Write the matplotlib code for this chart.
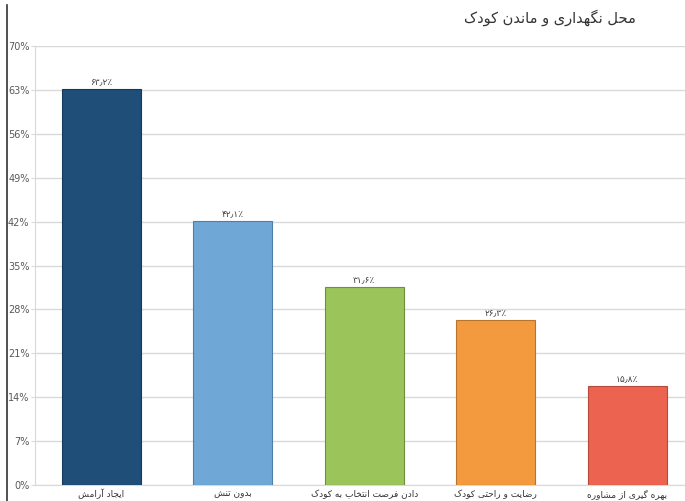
import matplotlib
matplotlib.use('Agg')
import matplotlib.pyplot as plt
from matplotlib.lines import Line2D

# 데이터
title = 'محل نگهداری و ماندن کودک'
categories = ['ایجاد آرامش', 'بدون تنش', 'دادن فرصت انتخاب به کودک',
              'رضایت و راحتی کودک', 'بهره گیری از مشاوره']
values = [63.2, 42.1, 31.6, 26.3, 15.8]
value_labels = ['۶۳٫۲٪', '۴۲٫۱٪', '۳۱٫۶٪', '۲۶٫۳٪', '۱۵٫۸٪']
y_ticks = [0, 7, 14, 21, 28, 35, 42, 49, 56, 63, 70]
colors = ['#1f4e79', '#6fa7d6', '#9bc45a', '#f39a3e', '#ec6450']
edge_colors = ['#163a5c', '#4f7fa6', '#6f8f3d', '#b8732e', '#b34a3b']

# 글자 형태 (isolated, final, initial, medial) - 오른쪽만 붙는 글자는 2개
FORMS = {
    'ا': ('\uFE8D', '\uFE8E'), 'آ': ('\uFE81', '\uFE82'),
    'د': ('\uFEA9', '\uFEAA'), 'ر': ('\uFEAD', '\uFEAE'),
    'ز': ('\uFEAF', '\uFEB0'), 'و': ('\uFEED', '\uFEEE'),
    'ب': ('\uFE8F', '\uFE90', '\uFE91', '\uFE92'),
    'ت': ('\uFE95', '\uFE96', '\uFE97', '\uFE98'),
    'ج': ('\uFE9D', '\uFE9E', '\uFE9F', '\uFEA0'),
    'ح': ('\uFEA1', '\uFEA2', '\uFEA3', '\uFEA4'),
    'خ': ('\uFEA5', '\uFEA6', '\uFEA7', '\uFEA8'),
    'ش': ('\uFEB5', '\uFEB6', '\uFEB7', '\uFEB8'),
    'ص': ('\uFEB9', '\uFEBA', '\uFEBB', '\uFEBC'),
    'ض': ('\uFEBD', '\uFEBE', '\uFEBF', '\uFEC0'),
    'ف': ('\uFED1', '\uFED2', '\uFED3', '\uFED4'),
    'ل': ('\uFEDD', '\uFEDE', '\uFEDF', '\uFEE0'),
    'م': ('\uFEE1', '\uFEE2', '\uFEE3', '\uFEE4'),
    'ن': ('\uFEE5', '\uFEE6', '\uFEE7', '\uFEE8'),
    'ه': ('\uFEE9', '\uFEEA', '\uFEEB', '\uFEEC'),
    'ی': ('\uFBFC', '\uFBFD', '\uFBFE', '\uFBFF'),
    'ک': ('\uFB8E', '\uFB8F', '\uFB90', '\uFB91'),
    'گ': ('\uFB92', '\uFB93', '\uFB94', '\uFB95'),
}


def shape(text):
    out = []
    for i, ch in enumerate(text):
        f = FORMS.get(ch)
        if f is None:
            out.append(ch)
            continue
        prev = text[i - 1] if i > 0 else ''
        nxt = text[i + 1] if i + 1 < len(text) else ''
        join_prev = prev in FORMS and len(FORMS[prev]) == 4
        join_next = len(f) == 4 and nxt in FORMS
        if join_prev and join_next:
            out.append(f[3])
        elif join_prev:
            out.append(f[1])
        elif join_next:
            out.append(f[2])
        else:
            out.append(f[0])
    return ''.join(out)[::-1]


plt.rcParams['font.family'] = ['DejaVu Sans']

fig = plt.figure(figsize=(6.85, 5.01), dpi=100)
ax = fig.add_axes([35 / 685, 1 - 485 / 501, 1 - 35 / 685, (485 - 46) / 501])

x = list(range(len(values)))
ax.bar(x, values, width=0.6, color=colors, edgecolor=edge_colors, linewidth=0.8, zorder=3)

for xi, v, lab in zip(x, values, value_labels):
    ax.text(xi, v + 0.3, lab, ha='center', va='bottom', fontsize=6.5, color='#404040')

ax.set_xlim(-0.504, 4.44)
ax.set_ylim(0, 70)
ax.set_yticks(y_ticks)
ax.set_yticklabels([f'{t}%' for t in y_ticks], fontsize=7, color='#595959')
ax.set_xticks(x)
ax.set_xticklabels([shape(c) for c in categories], fontsize=6.5, color='#333333')
ax.tick_params(axis='x', length=0, pad=3)
ax.tick_params(axis='y', length=3, color='#d9d9d9', pad=1)
ax.grid(axis='y', color='#d9d9d9', linewidth=1, zorder=0)
for s in ['top', 'right']:
    ax.spines[s].set_visible(False)
ax.spines['left'].set_color('#d9d9d9')
ax.spines['bottom'].set_color('#d9d9d9')

fig.text(636 / 685, 1 - 18 / 501, shape(title), ha='right', va='center', fontsize=10.5, color='#333333')

# 왼쪽 테두리 선
fig.add_artist(Line2D([7 / 685, 7 / 685], [0, 1 - 5 / 501], transform=fig.transFigure,
                      color='#333333', linewidth=1.2))

plt.savefig('out.png', dpi=100)
